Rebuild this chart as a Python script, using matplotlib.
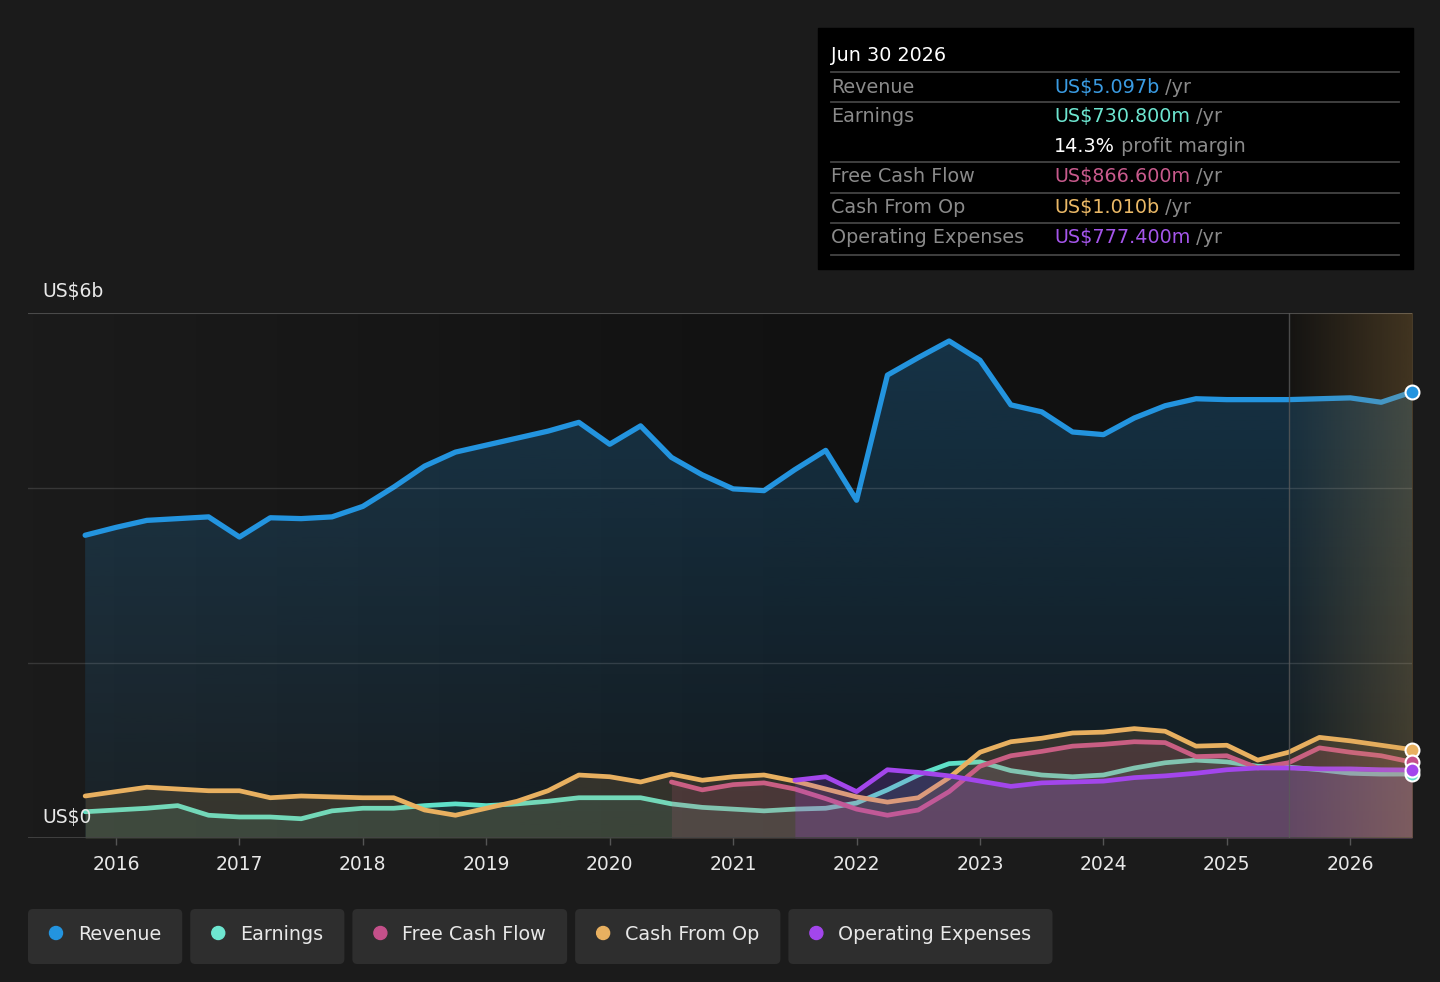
import matplotlib

matplotlib.use("Agg")
import matplotlib.pyplot as plt
import numpy as np
from matplotlib.colors import to_rgb
from matplotlib.patches import FancyBboxPatch, Circle

# ── Data (US$ billions, quarterly, trailing twelve months) ─────────────────────
quarters = np.arange(2015.75, 2026.51, 0.25)

revenue = [3.46, 3.55, 3.63, 3.65, 3.67, 3.44, 3.66, 3.65, 3.67, 3.79, 4.01,
           4.25, 4.41, 4.49, 4.57, 4.65, 4.75, 4.50, 4.71, 4.35, 4.15, 3.99,
           3.97, 4.21, 4.43, 3.86, 5.29, 5.49, 5.68, 5.46, 4.95, 4.87, 4.64,
           4.61, 4.80, 4.94, 5.02, 5.01, 5.01, 5.01, 5.02, 5.03, 4.98, 5.097]

earnings = [0.30, 0.32, 0.34, 0.37, 0.26, 0.24, 0.24, 0.22, 0.31, 0.34, 0.34,
            0.37, 0.39, 0.37, 0.39, 0.42, 0.46, 0.46, 0.46, 0.39, 0.35, 0.33,
            0.31, 0.33, 0.34, 0.40, 0.55, 0.72, 0.85, 0.87, 0.77, 0.72, 0.70,
            0.72, 0.80, 0.86, 0.89, 0.87, 0.82, 0.81, 0.78, 0.74, 0.73, 0.7308]

cash_from_op = [0.48, 0.53, 0.58, 0.56, 0.54, 0.54, 0.46, 0.48, 0.47, 0.46,
                0.46, 0.32, 0.26, 0.34, 0.42, 0.54, 0.72, 0.70, 0.64, 0.73,
                0.66, 0.70, 0.72, 0.65, 0.56, 0.47, 0.41, 0.46, 0.69, 0.98,
                1.10, 1.14, 1.20, 1.21, 1.25, 1.22, 1.05, 1.06, 0.89, 0.98,
                1.15, 1.11, 1.06, 1.010]

# Free cash flow starts 2020.5, operating expenses 2021.5
fcf_quarters = np.arange(2020.5, 2026.51, 0.25)
free_cash_flow = [0.64, 0.55, 0.61, 0.63, 0.56, 0.45, 0.33, 0.26, 0.32, 0.53,
                  0.82, 0.94, 0.99, 1.05, 1.07, 1.10, 1.09, 0.93, 0.94, 0.80,
                  0.86, 1.03, 0.98, 0.94, 0.8666]

opex_quarters = np.arange(2021.5, 2026.51, 0.25)
operating_expenses = [0.66, 0.70, 0.53, 0.78, 0.75, 0.71, 0.65, 0.59, 0.63,
                      0.64, 0.65, 0.69, 0.71, 0.74, 0.78, 0.80, 0.80, 0.79,
                      0.79, 0.78, 0.7774]

years = list(range(2016, 2027))
forecast_start = 2025.5

# ── Style ──────────────────────────────────────────────────────────────────────
BG = "#1b1b1b"
C_REV = "#2394df"
C_EARN = "#5fe0c8"
C_FCF = "#c4508a"
C_CFO = "#e8b060"
C_OPEX = "#a346ec"
TXT = "#e8e8e8"
GREY = "#8a8a8a"

W, H = 1440, 982
fig = plt.figure(figsize=(W / 100, H / 100), dpi=100)
fig.patch.set_facecolor(BG)

XL = (2015.287, 2026.5)
ax = fig.add_axes([28 / W, 1 - 838 / H, (1412 - 28) / W, 525 / H])
ax.set_facecolor(BG)

# plot background: slightly darker towards the right
bg = np.zeros((2, 256, 3))
shade = np.clip(np.linspace(27, 10, 256), 17, 27) / 255
bg[:, :, :] = shade[None, :, None]
ax.imshow(bg, extent=[XL[0], XL[1], 0, 6], aspect="auto", zorder=0, origin="lower")

# revenue area with vertical gradient
rev_poly = ax.fill_between(quarters, revenue, 0, facecolor="none", edgecolor="none")
grad = np.zeros((256, 1, 4))
grad[:, :, :3] = to_rgb(C_REV)
grad[:, 0, 3] = np.linspace(0.06, 0.27, 256)
im = ax.imshow(grad, extent=[quarters[0], quarters[-1], 0, 6], aspect="auto",
               origin="lower", zorder=1)
im.set_clip_path(rev_poly.get_paths()[0], transform=ax.transData)
ax.plot(quarters, revenue, color=C_REV, lw=3.8, solid_capstyle="round",
        solid_joinstyle="round", zorder=2)

series = [
    (quarters, earnings, C_EARN, 0.12),
    (fcf_quarters, free_cash_flow, C_FCF, 0.16),
    (quarters, cash_from_op, C_CFO, 0.15),
    (opex_quarters, operating_expenses, C_OPEX, 0.20),
]
for i, (xq, yv, col, a) in enumerate(series):
    ax.fill_between(xq, yv, 0, color=col, alpha=a, lw=0, zorder=3 + i)
    ax.plot(xq, yv, color=col, lw=3.4, solid_capstyle="round",
            solid_joinstyle="round", zorder=3 + i)

# grid lines
for g in (2, 4):
    ax.axhline(g, color="white", alpha=0.13, lw=1, zorder=7)
ax.axhline(6, color="#4a4a4a", lw=1.5, zorder=7)
ax.axhline(0, color="#444444", lw=2, zorder=7)

# forecast overlay
fc = np.zeros((1, 256, 4))
fc[:, :, :3] = to_rgb("#d4a050")
fc[0, :, 3] = np.linspace(0.02, 0.25, 256)
ax.imshow(fc, extent=[forecast_start, XL[1], 0, 6], aspect="auto", zorder=8,
          origin="lower")
ax.axvline(forecast_start, color="#5a5a5a", lw=1, alpha=0.8, zorder=8)

# end markers
ends = [(revenue[-1], C_REV), (cash_from_op[-1], C_CFO),
        (free_cash_flow[-1], C_FCF), (earnings[-1], C_EARN),
        (operating_expenses[-1], C_OPEX)]
for v, col in ends:
    ax.plot([quarters[-1]], [v], "o", ms=10, mfc=col, mec="white", mew=1.5,
            clip_on=False, zorder=10)

ax.set_xlim(*XL)
ax.set_ylim(0, 6)
ax.set_xticks(years)
ax.set_xticklabels([str(y) for y in years])
ax.set_yticks([])
ax.tick_params(axis="x", colors="#555555", length=5, width=1, pad=7,
               labelsize=13.5, labelcolor=TXT)
for s in ax.spines.values():
    s.set_visible(False)

# ── Overlay in pixel coordinates: axis labels, tooltip, legend ─────────────────
ov = fig.add_axes([0, 0, 1, 1])
ov.set_xlim(0, W)
ov.set_ylim(H, 0)
ov.axis("off")
ov.patch.set_alpha(0)

ov.text(42, 292, "US$6b", color=TXT, fontsize=13.5, va="center", ha="left")
ov.text(42, 818, "US$0", color=TXT, fontsize=13.5, va="center", ha="left",
        zorder=20)

# tooltip
ov.add_patch(plt.Rectangle((818, 28), 595, 241, color="black", zorder=5))
ov.text(831, 55, "Jun 30 2026", color="white", fontsize=13.8, va="center",
        zorder=7)
for yl in (72, 102, 162, 193, 223, 255):
    ov.plot([831, 1399], [yl, yl], color="#444444", lw=1.3, zorder=6)

renderer = fig.canvas.get_renderer()


def two_part(x, y, first, c1, second, c2):
    t = ov.text(x, y, first, color=c1, fontsize=13.8, va="center", zorder=7)
    bb = t.get_window_extent(renderer=renderer)
    ov.text(x + bb.width, y, second, color=c2, fontsize=13.8, va="center",
            zorder=7)


rows = [
    (87, "Revenue", "US$5.097b", "#3a9be2"),
    (116, "Earnings", "US$730.800m", "#6de6d0"),
    (176, "Free Cash Flow", "US$866.600m", "#c85a8c"),
    (207, "Cash From Op", "US$1.010b", "#eab866"),
    (237, "Operating Expenses", "US$777.400m", "#a455ea"),
]
for yv, lab, val, col in rows:
    ov.text(831, yv, lab, color=GREY, fontsize=13.8, va="center", zorder=7)
    two_part(1054, yv, val, col, " /yr", GREY)
two_part(1054, 146, "14.3%", "white", " profit margin", GREY)

# legend
legend_items = [("Revenue", C_REV), ("Earnings", "#6ee6d0"),
                ("Free Cash Flow", C_FCF), ("Cash From Op", C_CFO),
                ("Operating Expenses", C_OPEX)]
x0 = 28
for lab, col in legend_items:
    t = ov.text(x0 + 50, 934, lab, color=TXT, fontsize=13.8, va="center",
                zorder=7)
    tw = t.get_window_extent(renderer=renderer).width
    bw = 50 + tw + 21
    ov.add_patch(FancyBboxPatch((x0 + 4, 913), bw - 8, 47,
                                boxstyle="round,pad=4,rounding_size=5",
                                fc="#2e2e2e", ec="none", zorder=5))
    ov.add_patch(Circle((x0 + 28, 933), 6.5, color=col, zorder=7))
    x0 += bw + 8

fig.savefig("out.png", dpi=100, facecolor=fig.get_facecolor())
